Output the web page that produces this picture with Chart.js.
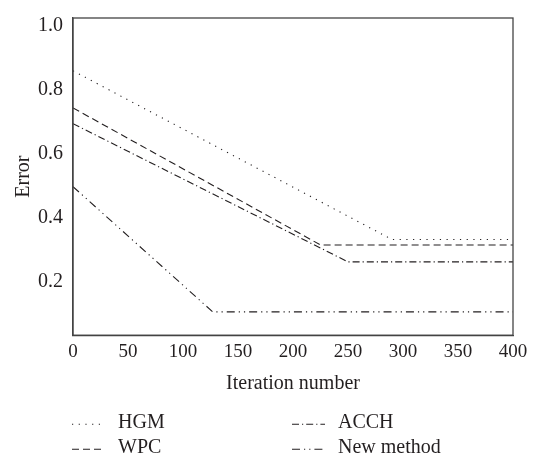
<!DOCTYPE html>
<html>
<head>
  <title>Error vs iteration</title>
  <script src="https://cdn.jsdelivr.net/npm/chart.js"></script>
  <style>
    body { margin: 0; background: #fff; }
    #chart { display: block; }
  </style>
</head>
<body>
  <canvas id="chart" width="539" height="463"></canvas>
  <script>
    // values read per series: iteration number and error
    var hgmIter = [0, 290, 400];
    var hgmErr = [0.86, 0.333, 0.333];
    var wpcIter = [0, 225, 400];
    var wpcErr = [0.744, 0.316, 0.316];
    var acchIter = [0, 250, 400];
    var acchErr = [0.695, 0.263, 0.263];
    var newIter = [0, 127, 400];
    var newErr = [0.498, 0.107, 0.107];

    var xTicks = [0, 50, 100, 150, 200, 250, 300, 350, 400];
    var yTicks = [0.2, 0.4, 0.6, 0.8, 1.0];

    var ink = '#231f20';
    var serif = "'Liberation Serif', 'Times New Roman', serif";

    function pts(xs, ys) {
      var out = [];
      for (var i = 0; i < xs.length; i++) out.push({ x: xs[i], y: ys[i] });
      return out;
    }

    function serie(label, xs, ys, dash) {
      return {
        label: label,
        data: pts(xs, ys),
        borderColor: ink,
        borderWidth: 1.1,
        borderDash: dash,
        pointRadius: 0,
        fill: false,
        tension: 0
      };
    }

    // box around the plot plus a two column legend under the axis title
    var frameAndLegend = {
      id: 'frameAndLegend',
      afterDraw: function (chart) {
        var ctx = chart.ctx;
        var a = chart.chartArea;
        ctx.save();
        ctx.strokeStyle = '#444';
        ctx.lineWidth = 1.3;
        ctx.setLineDash([]);
        ctx.strokeRect(a.left, a.top, a.right - a.left, a.bottom - a.top);

        var colX = [72, 292];
        var textX = [118, 338];
        var rowY = [a.bottom + 88, a.bottom + 113];
        ctx.font = '20px ' + serif;
        ctx.textBaseline = 'middle';
        ctx.fillStyle = ink;
        chart.data.datasets.forEach(function (ds, i) {
          var col = Math.floor(i / 2), row = i % 2;
          var y = rowY[row];
          ctx.strokeStyle = ink;
          ctx.lineWidth = 1.1;
          ctx.setLineDash(ds.borderDash);
          ctx.beginPath();
          ctx.moveTo(colX[col], y + 1);
          ctx.lineTo(colX[col] + 33, y + 1);
          ctx.stroke();
          ctx.fillText(ds.label, textX[col], y);
        });
        ctx.restore();
      }
    };

    new Chart(document.getElementById('chart'), {
      type: 'line',
      data: {
        datasets: [
          serie('HGM', hgmIter, hgmErr, [1.2, 5.5]),
          serie('WPC', wpcIter, wpcErr, [7, 4]),
          serie('ACCH', acchIter, acchErr, [7, 3, 1.2, 3]),
          serie('New method', newIter, newErr, [8, 4, 1.2, 4, 1.2, 4])
        ]
      },
      options: {
        responsive: false,
        animation: false,
        layout: { padding: { top: 18, right: 26, bottom: 67, left: 0 } },
        plugins: { legend: { display: false }, tooltip: { enabled: false } },
        scales: {
          x: {
            type: 'linear',
            min: 0,
            max: 400,
            afterBuildTicks: function (s) { s.ticks = xTicks.map(function (v) { return { value: v }; }); },
            grid: { display: false, drawTicks: false },
            border: { display: true, color: '#444', width: 1.3 },
            ticks: { color: ink, font: { family: serif, size: 19 }, padding: 5, maxRotation: 0 },
            title: { display: true, text: 'Iteration number', color: ink, font: { family: serif, size: 20 }, padding: { top: 4, bottom: 0 } }
          },
          y: {
            type: 'linear',
            min: 0.034,
            max: 1.025,
            afterBuildTicks: function (s) { s.ticks = yTicks.map(function (v) { return { value: v }; }); },
            afterFit: function (s) { s.width = 73; s.paddingTop = 0; s.paddingBottom = 0; },
            grid: { display: false, drawTicks: false },
            border: { display: true, color: '#444', width: 1.3 },
            ticks: {
              color: ink,
              font: { family: serif, size: 20 },
              padding: 10,
              callback: function (v) { return v.toFixed(1); }
            },
            title: { display: true, text: 'Error', color: ink, font: { family: serif, size: 20 }, padding: { top: 12, bottom: 0 } }
          }
        }
      },
      plugins: [frameAndLegend]
    });
  </script>
</body>
</html>
